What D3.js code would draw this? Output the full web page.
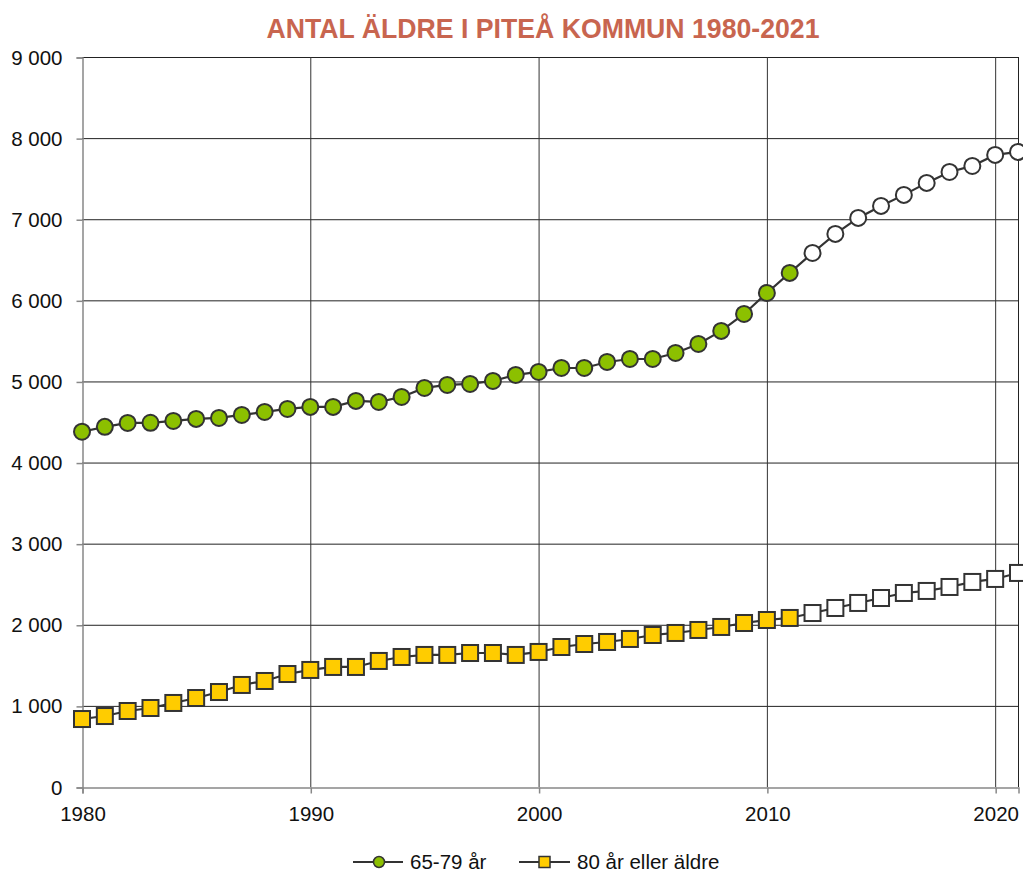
<!DOCTYPE html>
<html><head><meta charset="utf-8">
<script src="https://cdn.jsdelivr.net/npm/d3@7"></script>
<style>body{margin:0;background:#fff}svg{display:block}</style>
</head><body>
<svg id="c" width="1023" height="872"></svg>
<script>
const years = d3.range(1980, 2022);
const age65_79 = [4380,4440,4488,4490,4513,4538,4550,4587,4624,4661,4686,4686,4760,4747,4809,4920,4957,4969,5006,5080,5117,5166,5166,5240,5277,5277,5351,5462,5623,5832,6091,6338,6584,6819,7016,7164,7300,7448,7583,7657,7793,7830];
const age80plus = [838,875,937,974,1036,1097,1171,1258,1307,1393,1443,1480,1480,1554,1603,1628,1628,1652,1652,1628,1665,1726,1763,1788,1825,1874,1899,1936,1973,2022,2059,2084,2145,2207,2269,2330,2392,2417,2466,2528,2565,2639];
const lastFilledYear = 2011;
const yTicks = [0,1000,2000,3000,4000,5000,6000,7000,8000,9000];
const xTicks = [1980,1990,2000,2010,2020];
const seriesNames = ["65-79 år","80 år eller äldre"];
const title = "ANTAL ÄLDRE I PITEÅ KOMMUN 1980-2021";

const svg = d3.select("#c");
const L=82, R=1018, T=57, B=787;
const x = d3.scaleLinear().domain([1980,2021]).range([L,R]);
const y = d3.scaleLinear().domain([0,9000]).range([B,T]);
const font = "'Liberation Sans', Arial, sans-serif";
const fs = 20.5;
const fmt = v => v===0 ? "0" : d3.format(",")(v).replace(/,/g," ");

svg.append("text").attr("x",543).attr("y",38).attr("text-anchor","middle")
  .attr("font-family",font).attr("font-size",28).attr("font-weight","bold")
  .attr("fill","#c8654f").attr("textLength",553).attr("lengthAdjust","spacingAndGlyphs").text(title);

// gridlines
svg.append("g").selectAll("line").data(yTicks.filter(d=>d>0)).join("line")
  .attr("x1",L).attr("x2",R).attr("y1",d=>y(d)+0.5).attr("y2",d=>y(d)+0.5)
  .attr("stroke","#222").attr("stroke-width",1);
svg.append("g").selectAll("line").data(xTicks.filter(d=>d>1980)).join("line")
  .attr("y1",T).attr("y2",B).attr("x1",d=>x(d)+0.5).attr("x2",d=>x(d)+0.5)
  .attr("stroke","#333").attr("stroke-width",1);
svg.append("line").attr("x1",R+0.5).attr("x2",R+0.5).attr("y1",T).attr("y2",B).attr("stroke","#222");

// axes
const yAxis = d3.axisLeft(y).tickValues(yTicks).tickFormat(fmt).tickSize(6).tickPadding(14);
const gy = svg.append("g").attr("transform",`translate(${L+0.5},0.5)`).call(yAxis);
gy.select(".domain").attr("stroke","#888").attr("stroke-width",1.5);
gy.selectAll(".tick line").attr("stroke","#888").attr("stroke-width",1.5);
gy.selectAll("text").attr("font-family",font).attr("font-size",fs).attr("fill","#111");

const xAxis = d3.axisBottom(x).tickValues(xTicks).tickFormat(d3.format("d")).tickSize(6).tickPadding(13);
const gx = svg.append("g").attr("transform",`translate(0.5,${B+0.5})`).call(xAxis);
gx.select(".domain").attr("stroke","#888").attr("stroke-width",1.5);
gx.selectAll(".tick line").attr("stroke","#888").attr("stroke-width",1.5);
gx.selectAll("text").attr("font-family",font).attr("font-size",fs).attr("fill","#111");

const line = d3.line().x((d,i)=>x(years[i])).y(d=>y(d));
const g = svg.append("g");
[age65_79, age80plus].forEach(arr=>{
  g.append("path").datum(arr).attr("d",line).attr("fill","none").attr("stroke","#333").attr("stroke-width",2.2);
});
g.selectAll("circle.m").data(age65_79).join("circle").attr("class","m")
  .attr("cx",(d,i)=>x(years[i])).attr("cy",d=>y(d)).attr("r",8)
  .attr("fill",(d,i)=>years[i]<=lastFilledYear?"#8cc000":"#fff").attr("stroke","#333").attr("stroke-width",2);
g.selectAll("rect.m").data(age80plus).join("rect").attr("class","m")
  .attr("x",(d,i)=>x(years[i])-8).attr("y",d=>y(d)-8).attr("width",16).attr("height",16)
  .attr("fill",(d,i)=>years[i]<=lastFilledYear?"#ffcc00":"#fff").attr("stroke","#333").attr("stroke-width",2);

// legend
const lg = svg.append("g");
const ly = 862;
lg.append("line").attr("x1",353).attr("x2",403).attr("y1",ly).attr("y2",ly).attr("stroke","#333").attr("stroke-width",2);
lg.append("circle").attr("cx",379).attr("cy",ly).attr("r",5.5).attr("fill","#8cc000").attr("stroke","#333").attr("stroke-width",1.5);
lg.append("text").attr("x",410).attr("y",ly+7).attr("font-family",font).attr("font-size",fs).attr("fill","#111").text(seriesNames[0]);
lg.append("line").attr("x1",519).attr("x2",570).attr("y1",ly).attr("y2",ly).attr("stroke","#333").attr("stroke-width",2);
lg.append("rect").attr("x",539).attr("y",ly-5.5).attr("width",11).attr("height",11).attr("fill","#ffcc00").attr("stroke","#333").attr("stroke-width",1.5);
lg.append("text").attr("x",577).attr("y",ly+7).attr("font-family",font).attr("font-size",fs).attr("fill","#111").text(seriesNames[1]);
</script>
</body></html>
